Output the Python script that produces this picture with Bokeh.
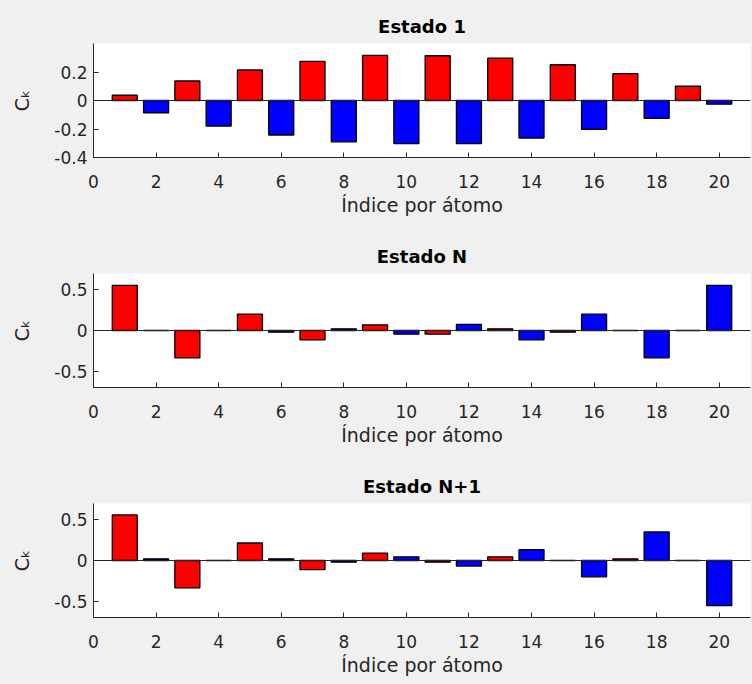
from bokeh.plotting import figure
from bokeh.layouts import column
from bokeh.models import Span, FixedTicker, Range1d
from bokeh.embed import file_html
from bokeh.resources import INLINE

# ---- data ----
atoms = list(range(1, 21))
estado_1 = [0.037, -0.086, 0.137, -0.179, 0.214, -0.242, 0.274, -0.290, 0.316, -0.302,
            0.314, -0.302, 0.297, -0.263, 0.251, -0.202, 0.188, -0.125, 0.100, -0.026]
estado_n = [0.553, 0.0, -0.336, 0.0, 0.200, -0.020, -0.115, 0.020, 0.070, -0.045,
            -0.045, 0.074, 0.020, -0.115, -0.020, 0.200, 0.0, -0.336, 0.0, 0.553]
estado_n1 = [0.560, 0.020, -0.335, 0.0, 0.215, 0.020, -0.113, -0.020, 0.090, 0.045,
             -0.020, -0.068, 0.045, 0.134, 0.0, -0.200, 0.020, 0.350, 0.0, -0.555]
titles = ["Estado 1", "Estado N", "Estado N+1"]
x_label = "Índice por átomo"
y_label = "Cₖ"
x_ticks = [0, 2, 4, 6, 8, 10, 12, 14, 16, 18, 20]
y_ticks_1 = [-0.4, -0.2, 0.0, 0.2]
y_tick_labels_1 = ["-0.4", "-0.2", "0", "0.2"]
y_ticks_n = [-0.5, 0.0, 0.5]
y_tick_labels_n = ["-0.5", "0", "0.5"]
bar_colors = ["#ff0000" if a % 2 == 1 else "#0000ff" for a in atoms]

AX = "#262626"
FONT = "DejaVu Sans"


def make_panel(title, values, ylim, yticks, ylabels, height, border_bottom):
    p = figure(width=752, height=height, x_range=Range1d(0, 21), y_range=Range1d(*ylim),
               output_backend="svg", toolbar_location=None,
               min_border_left=93, min_border_right=2, min_border_top=43,
               min_border_bottom=border_bottom,
               background_fill_color="white", border_fill_color="#f0f0f0")
    p.outline_line_color = None
    p.grid.visible = False
    p.title.text = title
    p.title.align = "center"
    p.title.text_font = FONT
    p.title.text_font_size = "18px"
    p.title.text_font_style = "bold"
    p.title.text_color = "black"
    p.title.standoff = 14

    p.vbar(x=atoms, top=values, bottom=0, width=0.8, fill_color=bar_colors,
           line_color="black", line_width=1.3)
    p.add_layout(Span(location=0, dimension="width", line_color=AX, line_width=1))

    xa = p.xaxis[0]
    xa.ticker = FixedTicker(ticks=x_ticks)
    xa.axis_label = x_label
    ya = p.yaxis[0]
    ya.ticker = FixedTicker(ticks=yticks)
    ya.major_label_overrides = dict(zip(yticks, ylabels))
    ya.axis_label = y_label
    for ax in (xa, ya):
        ax.axis_line_color = AX
        ax.major_tick_line_color = AX
        ax.major_tick_in = 5
        ax.major_tick_out = 0
        ax.minor_tick_line_color = None
        ax.major_label_text_font = FONT
        ax.major_label_text_font_size = "17px"
        ax.major_label_text_color = AX
        ax.axis_label_text_font = FONT
        ax.axis_label_text_font_size = "19px"
        ax.axis_label_text_font_style = "normal"
        ax.axis_label_text_color = AX
    xa.major_label_standoff = 17
    xa.axis_label_standoff = 3
    ya.major_label_standoff = 6
    ya.axis_label_standoff = 18
    return p


p1 = make_panel(titles[0], estado_1, (-0.4, 0.4), y_ticks_1, y_tick_labels_1, 230, 73)
p2 = make_panel(titles[1], estado_n, (-0.7, 0.7), y_ticks_n, y_tick_labels_n, 230, 73)
p3 = make_panel(titles[2], estado_n1, (-0.7, 0.7), y_ticks_n, y_tick_labels_n, 222, 65)

layout = column(p1, p2, p3, spacing=0)
html = file_html(layout, INLINE)
html = html.replace("</head>", "<style>html, body { background-color: #f0f0f0; }</style></head>", 1)
open("out.html", "w").write(html)
